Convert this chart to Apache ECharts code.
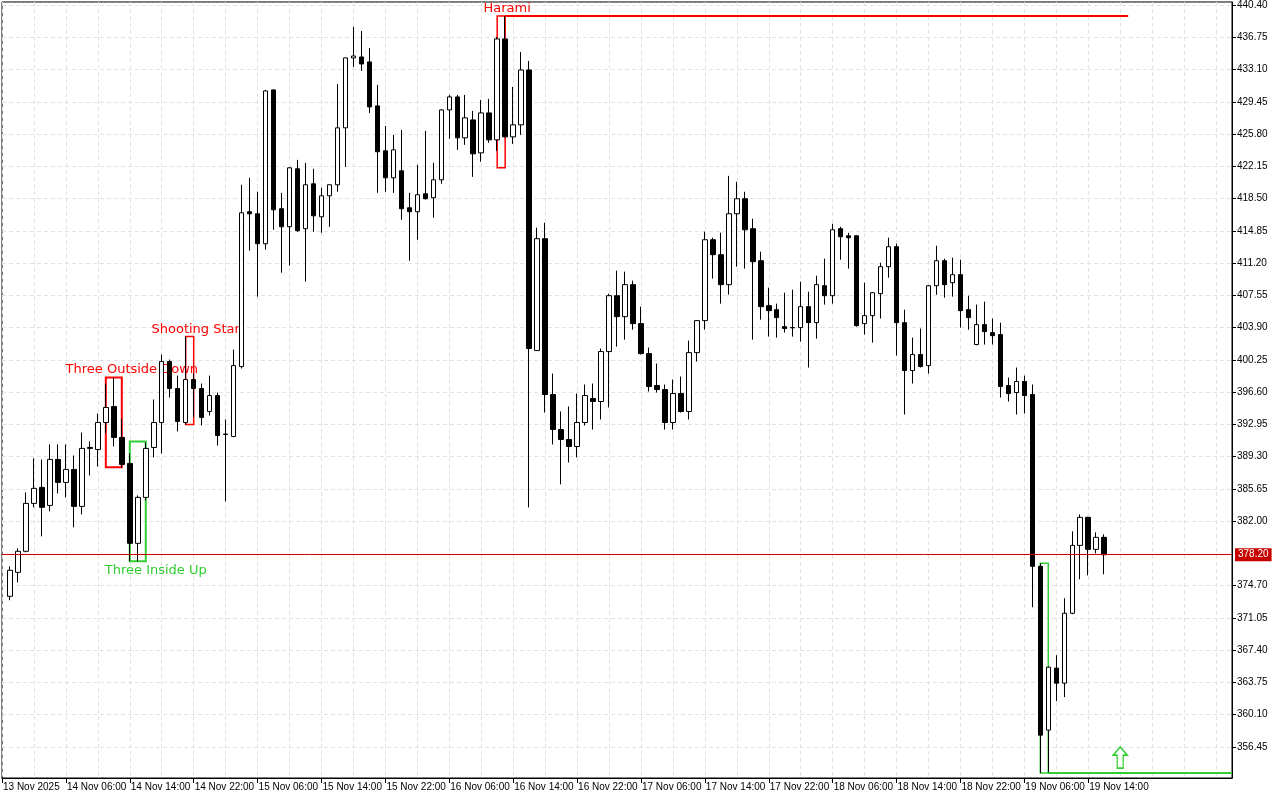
<!DOCTYPE html>
<html>
<head>
<meta charset="utf-8">
<script src="https://cdn.jsdelivr.net/npm/echarts@6.0.0/dist/echarts.min.js"></script>
<style>
  html, body { margin: 0; padding: 0; background: #fff; }
  #chart { width: 1280px; height: 800px; }
</style>
</head>
<body>
<div id="chart"></div>
<script>
// hourly candles, index 0 = 13 Nov 22:00 (empty)
var opens = [null,
  373.50, 376.21, 378.59, 384.01, 385.82, 383.78, 388.98, 386.38, 387.85, 383.67,
  390.34, 390.11, 393.16, 394.97, 391.47, 388.53, 379.49, 384.69, 390.34, 393.16,
  400.06, 397.01, 393.16, 398.02, 397.01, 394.41, 396.21, 391.85, 391.58, 399.49,
  417.01, 416.78, 413.39, 430.79, 417.35, 415.31, 421.87, 415.09, 420.17, 416.44,
  418.81, 420.06, 426.50, 434.41, 434.52, 433.96, 428.98, 423.90, 420.85, 421.64,
  417.46, 417.01, 419.04, 418.59, 420.62, 428.53, 430.00, 425.37, 427.40, 423.67,
  428.19, 425.14, 436.56, 425.48, 426.84, 433.05, 401.30, 413.96, 396.33, 392.37,
  391.24, 390.45, 393.16, 395.88, 395.54, 401.19, 407.51, 405.14, 408.76, 404.35,
  400.96, 397.34, 396.89, 393.16, 396.44, 394.41, 401.07, 404.69, 413.84, 412.15,
  408.76, 416.78, 418.48, 415.09, 411.47, 406.38, 405.93, 404.01, 403.90, 403.90,
  406.27, 404.46, 408.64, 407.51, 415.09, 414.29, 414.29, 404.35, 405.25, 407.74,
  410.79, 413.05, 404.46, 399.04, 400.85, 399.60, 408.64, 411.47, 408.98, 409.89,
  405.93, 401.98, 404.24, 403.33, 403.11, 397.34, 396.55, 397.80, 396.33, 376.89,
  358.36, 365.37, 363.67, 371.58, 379.26, 382.43, 378.81, 380.17];
var closes = [null,
  376.44, 378.59, 384.01, 385.71, 383.56, 388.98, 386.38, 387.85, 383.67, 390.23,
  390.23, 393.16, 394.86, 391.47, 388.42, 379.49, 384.69, 390.23, 393.16, 400.06,
  397.01, 393.28, 398.02, 397.01, 393.73, 396.21, 391.69, 391.81, 399.60, 416.89,
  416.78, 413.39, 430.68, 417.23, 415.31, 421.98, 414.86, 420.06, 416.55, 418.81,
  420.06, 426.50, 434.41, 434.63, 433.73, 428.87, 423.79, 420.85, 424.01, 417.35,
  417.01, 418.93, 418.48, 420.62, 428.53, 430.00, 425.37, 427.63, 423.56, 428.19,
  425.14, 436.56, 425.48, 426.84, 433.05, 401.53, 413.96, 396.33, 392.37, 391.24,
  390.45, 393.16, 396.21, 395.54, 401.19, 407.51, 405.14, 408.76, 404.35, 400.96,
  397.23, 396.89, 393.16, 396.44, 394.41, 401.07, 404.69, 413.84, 412.15, 408.76,
  416.78, 418.48, 414.97, 411.36, 406.27, 405.82, 405.03, 403.79, 403.88, 406.27,
  404.46, 408.76, 407.51, 414.97, 414.18, 414.07, 404.12, 405.25, 407.85, 410.79,
  413.05, 404.46, 399.04, 400.85, 399.49, 408.64, 411.47, 408.76, 409.89, 405.82,
  405.03, 404.24, 403.45, 402.99, 397.23, 396.44, 397.80, 396.21, 376.89, 357.79,
  365.48, 363.67, 371.58, 379.26, 382.43, 378.81, 380.17, 378.20];
var lows = [null,
  373.05, 375.08, 378.47, 383.56, 380.28, 383.11, 385.14, 384.69, 381.30, 382.77,
  387.17, 388.19, 391.92, 390.45, 388.08, 377.46, 377.46, 384.35, 389.21, 389.66,
  395.99, 392.15, 392.94, 393.73, 392.82, 393.95, 390.56, 384.24, 391.50, 399.27,
  412.60, 407.40, 412.71, 414.97, 410.11, 410.90, 414.75, 409.10, 414.75, 414.63,
  415.31, 419.27, 422.09, 433.39, 432.94, 428.19, 419.15, 419.27, 419.15, 416.10,
  411.47, 413.84, 418.40, 416.33, 420.17, 425.26, 424.01, 424.58, 420.96, 422.66,
  424.80, 423.90, 425.40, 424.69, 425.71, 383.56, 401.25, 394.29, 390.68, 386.16,
  388.64, 389.21, 392.82, 392.37, 393.50, 394.86, 401.75, 402.54, 403.67, 400.85,
  396.67, 396.55, 392.37, 392.37, 394.29, 393.50, 400.06, 403.67, 409.44, 406.61,
  407.63, 410.79, 410.57, 402.54, 404.80, 402.88, 402.77, 403.33, 402.88, 402.32,
  399.38, 402.66, 406.50, 406.61, 411.58, 410.57, 404.01, 403.11, 402.20, 404.92,
  409.55, 400.73, 394.07, 397.57, 399.38, 398.70, 407.63, 407.29, 407.40, 403.90,
  403.67, 401.90, 401.98, 401.98, 395.99, 395.54, 394.07, 394.18, 372.26, 353.50,
  353.50, 361.64, 362.09, 371.47, 375.42, 375.87, 378.36, 375.99];
var highs = [null,
  376.89, 378.93, 385.25, 389.10, 388.98, 390.68, 390.68, 390.68, 389.43, 392.03,
  391.02, 394.18, 397.57, 398.25, 393.62, 389.66, 384.91, 390.90, 395.76, 400.85,
  400.28, 398.47, 402.88, 398.70, 397.57, 398.47, 396.55, 393.50, 401.41, 420.06,
  420.85, 419.27, 430.79, 430.85, 419.15, 422.05, 422.88, 422.54, 421.87, 419.72,
  420.10, 431.47, 434.45, 437.91, 437.46, 435.54, 431.36, 426.72, 425.71, 426.27,
  419.15, 422.32, 426.16, 422.54, 428.60, 430.23, 430.23, 430.23, 428.42, 429.66,
  429.78, 436.78, 439.15, 431.13, 435.09, 434.07, 415.20, 415.76, 398.70, 394.41,
  394.97, 396.44, 397.46, 397.57, 401.53, 407.74, 410.34, 410.23, 409.21, 406.27,
  401.64, 399.83, 397.46, 398.02, 398.36, 402.43, 404.75, 414.75, 414.07, 414.63,
  421.07, 420.40, 419.27, 416.22, 412.49, 408.42, 406.61, 407.85, 408.19, 409.10,
  407.97, 409.77, 411.70, 415.65, 415.31, 414.63, 414.35, 408.98, 407.90, 411.24,
  414.07, 413.39, 405.93, 402.77, 403.79, 408.70, 413.16, 411.70, 411.81, 411.58,
  407.51, 406.50, 406.84, 404.92, 404.46, 398.25, 399.38, 398.47, 397.46, 377.23,
  365.55, 366.83, 373.28, 380.85, 382.77, 382.50, 380.73, 380.51];

var xTickLabels = ['13 Nov 2025', '14 Nov 06:00', '14 Nov 14:00', '14 Nov 22:00',
  '15 Nov 06:00', '15 Nov 14:00', '15 Nov 22:00', '16 Nov 06:00', '16 Nov 14:00',
  '16 Nov 22:00', '17 Nov 06:00', '17 Nov 14:00', '17 Nov 22:00', '18 Nov 06:00',
  '18 Nov 14:00', '18 Nov 22:00', '19 Nov 06:00', '19 Nov 14:00'];
var yTicks = [356.45, 360.10, 363.75, 367.40, 371.05, 374.70, 382.00, 385.65,
  389.30, 392.95, 396.60, 400.25, 403.90, 407.55, 411.20, 414.85, 418.50, 422.15,
  425.80, 429.45, 433.10, 436.75, 440.40];
var lastPrice = 378.20;

// candle patterns found on the chart
var patternNames = ['Three Outside Down', 'Shooting Star', 'Three Inside Up', 'Harami', ''];
var patternFrom = [13, 23, 16, 62, 130];
var patternTo = [15, 24, 18, 63, 131];
var patternHigh = [398.25, 402.88, 391.02, 439.15, 377.23];
var patternLow = [388.10, 392.94, 377.46, 421.98, 353.50];
var patternBull = [false, false, true, false, true];
var resistLine = [63, 141, 439.15];
var supportLine = [131, 154, 353.50];
var arrowPoint = [140, 355.25];

var RED = '#ff0000';
var GREEN = '#32cd32';
var slotCount = 155;

var categories = [];
for (var i = 0; i < slotCount; i++) categories.push(String(i));

var candles = [];
for (var i = 0; i < slotCount; i++) {
  if (i < opens.length && opens[i] != null) {
    candles.push([opens[i], closes[i], lows[i], highs[i]]);
  } else {
    candles.push('-');
  }
}

var areas = [];
for (var p = 0; p < patternNames.length; p++) {
  var col = patternBull[p] ? GREEN : RED;
  var span = patternTo[p] - patternFrom[p];
  var below = p === 2;
  areas.push([
    {
      coord: [patternFrom[p], patternHigh[p]],
      itemStyle: { color: 'rgba(0,0,0,0)', borderColor: col, borderWidth: span > 1 ? 2 : 1.5 },
      label: {
        show: patternNames[p] !== '',
        formatter: patternNames[p],
        position: below ? 'bottom' : 'top',
        distance: below ? 2 : 0,
        offset: [span > 1 ? 18 : 6, 0],
        color: col,
        fontSize: 13,
        fontFamily: 'DejaVu Sans'
      }
    },
    { coord: [patternTo[p], patternLow[p]] }
  ]);
}

var myChart = echarts.init(document.getElementById('chart'));
var option = {
  animation: false,
  backgroundColor: '#fff',
  grid: {
    left: 2, top: 1, right: 48, bottom: 22,
    show: true, borderColor: '#000', borderWidth: 1, backgroundColor: '#fff'
  },
  xAxis: {
    type: 'category',
    data: categories,
    boundaryGap: false,
    axisLine: { lineStyle: { color: '#000', width: 1 } },
    axisTick: {
      length: 5,
      lineStyle: { color: '#000' },
      interval: function (idx) { return idx % 8 === 0 && idx / 8 < xTickLabels.length; }
    },
    axisLabel: {
      interval: function (idx) { return idx % 8 === 0 && idx / 8 < xTickLabels.length; },
      formatter: function (v, idx) { return xTickLabels[idx / 8] || ''; },
      align: 'left',
      margin: 4,
      padding: [0, 0, 0, 1],
      color: '#000',
      fontSize: 10,
      fontFamily: 'Liberation Sans'
    },
    splitLine: {
      show: true,
      interval: 3,
      lineStyle: { color: '#e2e2e2', type: [4, 3], width: 1 }
    }
  },
  yAxis: {
    type: 'value',
    position: 'right',
    min: 352.94,
    max: 440.74,
    axisLine: { show: true, lineStyle: { color: '#000' } },
    axisTick: { show: true, length: 4, lineStyle: { color: '#000' }, customValues: yTicks },
    axisLabel: {
      customValues: yTicks,
      formatter: function (v) { return v.toFixed(2); },
      margin: 5,
      color: '#000',
      fontSize: 10,
      fontFamily: 'Liberation Sans'
    },
    splitLine: { show: true, lineStyle: { color: '#e2e2e2', type: [4, 3], width: 1 } }
  },
  series: [
    {
      type: 'candlestick',
      data: candles,
      barWidth: 5,
      itemStyle: {
        color: '#fff',
        color0: '#000',
        borderColor: '#000',
        borderColor0: '#000',
        borderWidth: 1
      },
      markArea: { silent: true, z: 1, data: areas },
      markLine: {
        silent: true,
        symbol: ['none', 'none'],
        animation: false,
        data: [
          {
            yAxis: lastPrice,
            lineStyle: { color: '#d00000', width: 1, type: 'solid' },
            label: {
              show: true, position: 'end', distance: 3,
              formatter: lastPrice.toFixed(2),
              backgroundColor: '#c80000', color: '#fff',
              padding: [2, 3, 1, 3], fontSize: 10, fontFamily: 'Liberation Sans'
            }
          },
          [
            { coord: [resistLine[0], resistLine[2]], lineStyle: { color: RED, width: 2, type: 'solid' }, label: { show: false } },
            { coord: [resistLine[1], resistLine[2]] }
          ],
          [
            { coord: [supportLine[0], supportLine[2]], lineStyle: { color: GREEN, width: 2, type: 'solid' }, label: { show: false } },
            { coord: [supportLine[1], supportLine[2]] }
          ]
        ]
      },
      markPoint: {
        silent: true,
        data: [{
          coord: arrowPoint,
          symbol: 'path://M7,0 L14,8 L10,8 L10,21 L4,21 L4,8 L0,8 Z',
          symbolSize: [14, 21],
          itemStyle: { color: '#fff', borderColor: GREEN, borderWidth: 1.5 },
          label: { show: false }
        }]
      }
    }
  ]
};
myChart.setOption(option);
</script>
</body>
</html>
